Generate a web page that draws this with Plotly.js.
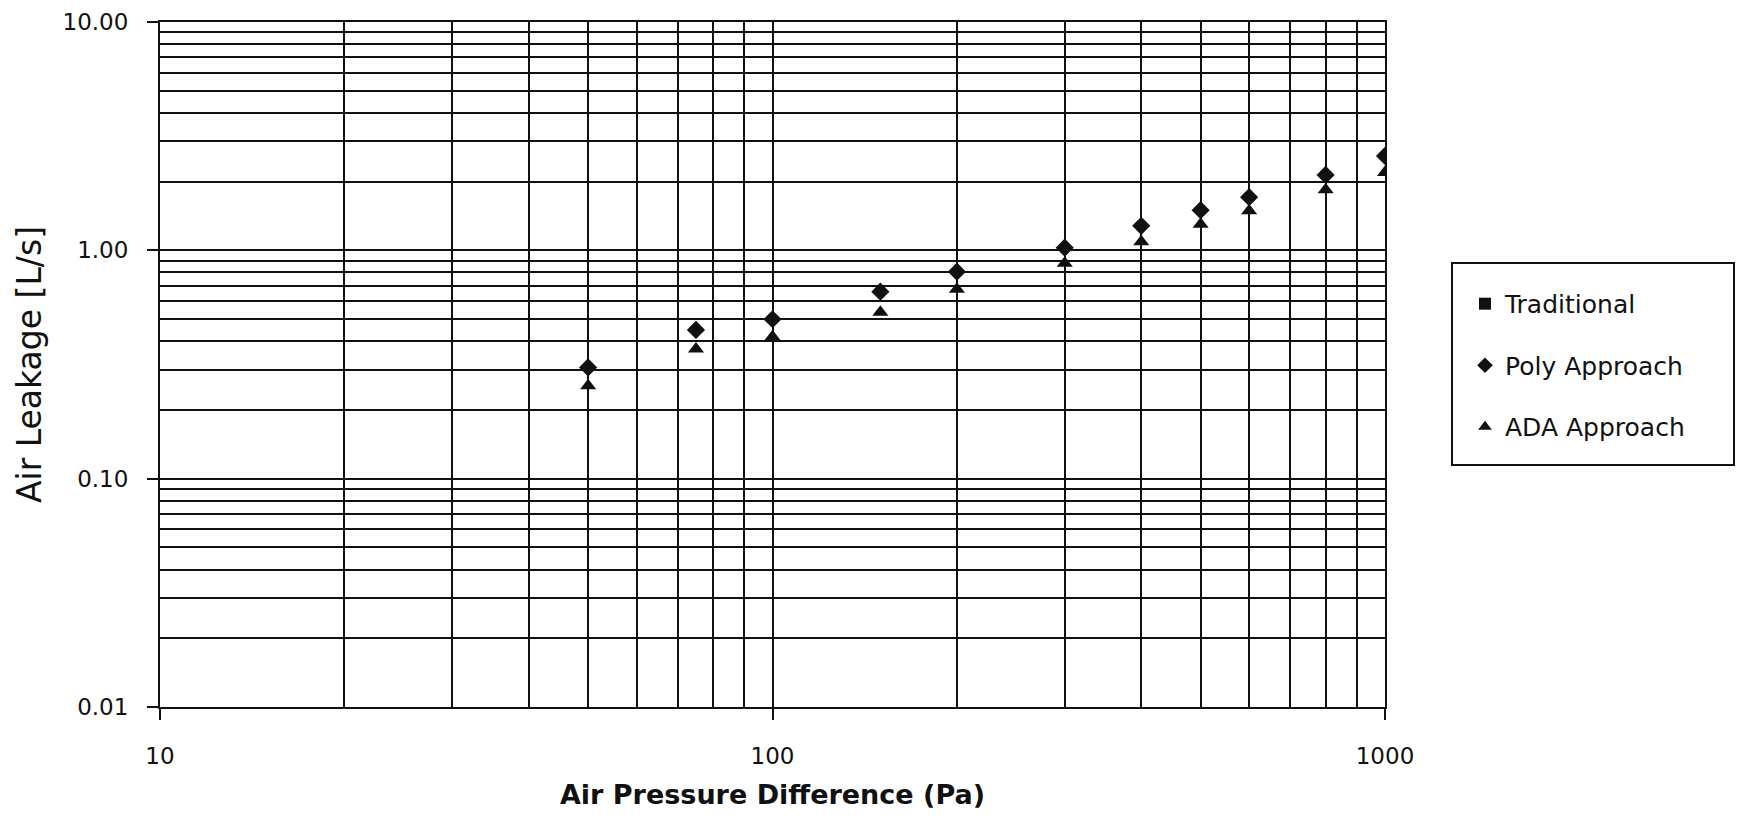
<!DOCTYPE html>
<html>
<head>
<meta charset="utf-8">
<script src="https://cdn.plot.ly/plotly-3.0.1.min.js"></script>
<style>html,body{margin:0;padding:0;background:#fff;}#chart{width:1740px;height:827px;}</style>
</head>
<body>
<div id="chart"></div>
<script>
// Data
const pressure = [50, 75, 100, 150, 200, 300, 400, 500, 600, 800, 1000];
const traditional = [0.307, 0.448, 0.499, 0.659, 0.806, 1.027, 1.28, 1.50, 1.71, 2.14, 2.59];
const polyApproach = [0.307, 0.448, 0.499, 0.659, 0.806, 1.027, 1.28, 1.50, 1.71, 2.14, 2.59];
const adaApproach = [0.255, 0.370, 0.418, 0.535, 0.675, 0.877, 1.09, 1.30, 1.49, 1.84, 2.19];

const xTickVals = [10, 100, 1000];
const xTickText = ["10", "100", "1000"];
const yTickVals = [0.01, 0.1, 1, 10];
const yTickText = ["0.01", "0.10", "1.00", "10.00"];

function minorVals(lo, hi) {
  const v = [];
  for (let d = lo; d < hi; d *= 10) for (let k = 2; k <= 9; k++) v.push(d * k);
  return v;
}

const font = "'DejaVu Sans', sans-serif";
const ink = "#111";

const traces = [
  {x: pressure, y: traditional, name: "Traditional", mode: "markers", type: "scatter",
   legendgroup: "a", marker: {symbol: "square", size: 7, color: ink}},
  {x: pressure, y: polyApproach, name: "Poly Approach", mode: "markers", type: "scatter",
   legendgroup: "b", marker: {symbol: "diamond", size: 14, color: ink}},
  {x: pressure, y: adaApproach, name: "ADA Approach", mode: "markers", type: "scatter",
   legendgroup: "c", marker: {symbol: "triangle-up", size: 14, color: ink}}
];

const layout = {
  width: 1740, height: 827,
  paper_bgcolor: "#fff", plot_bgcolor: "#fff",
  margin: {l: 160, r: 355, t: 22, b: 120},
  font: {family: font, color: ink, size: 23},
  showlegend: true,
  legend: {
    x: 1.0653, y: 0.622, xanchor: "left", yanchor: "top",
    borderwidth: 0, bgcolor: "rgba(0,0,0,0)",
    font: {family: font, size: 25, color: ink},
    tracegroupgap: 26, itemsizing: "constant"
  },
  shapes: [
    {type: "rect", xref: "paper", yref: "paper", x0: 1.0547, x1: 1.2849, y0: 0.3533, y1: 0.6482,
     line: {color: ink, width: 2}, fillcolor: "rgba(0,0,0,0)", layer: "below"}
  ],
  xaxis: {
    type: "log", range: [1, 3],
    tickvals: xTickVals, ticktext: xTickText,
    ticks: "outside", ticklen: 11, tickwidth: 2, tickcolor: ink,
    showline: true, linecolor: ink, linewidth: 2, mirror: true,
    showgrid: true, gridcolor: ink, gridwidth: 2,
    minor: {tickvals: minorVals(10, 1000), showgrid: true, gridcolor: ink, gridwidth: 2, ticks: ""},
    zeroline: false,
    tickfont: {size: 23},
    ticklabelstandoff: 16,
    title: {text: "<b>Air Pressure Difference (Pa)</b>", font: {size: 27}, standoff: 18}
  },
  yaxis: {
    type: "log", range: [-2, 1],
    tickvals: yTickVals, ticktext: yTickText,
    ticks: "outside", ticklen: 11, tickwidth: 2, tickcolor: ink,
    showline: true, linecolor: ink, linewidth: 2, mirror: true,
    showgrid: true, gridcolor: ink, gridwidth: 2,
    minor: {tickvals: minorVals(0.01, 10), showgrid: true, gridcolor: ink, gridwidth: 2, ticks: ""},
    zeroline: false,
    tickfont: {size: 23},
    ticklabelstandoff: 14,
    title: {text: "Air Leakage [L/s]", font: {size: 33}, standoff: 11}
  }
};

Plotly.newPlot("chart", traces, layout, {displayModeBar: false, staticPlot: true});
</script>
</body>
</html>
